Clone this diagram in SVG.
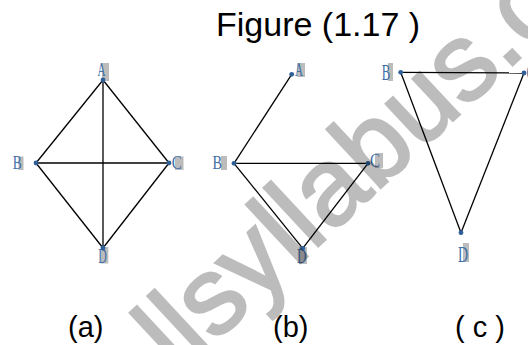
<svg xmlns="http://www.w3.org/2000/svg" width="528" height="345" viewBox="0 0 528 345">
<style>
.cap{font-family:"Liberation Sans",Arial,sans-serif;fill:#000}
.lbl{font-family:"Liberation Serif","Times New Roman",serif;fill:#3f6fa8}
.box{fill:#bcbcbc}
.dot{fill:#2f5f98}
.edge{stroke:#000;stroke-width:1.3;fill:none}
.wm{font-family:"Liberation Sans",Arial,sans-serif;fill:#000;stroke:#000;stroke-width:2.5}
</style>
<rect width="528" height="345" fill="#fff"/>
<text class="cap" x="216" y="36" font-size="34">Figure (1.17 )</text>
<g id="connectors">
<line class="edge" x1="103" y1="80" x2="36" y2="163"/>
<line class="edge" x1="103" y1="80" x2="169" y2="163"/>
<line class="edge" x1="103" y1="80" x2="103" y2="248"/>
<line class="edge" x1="36" y1="163" x2="169" y2="163"/>
<line class="edge" x1="36" y1="163" x2="103" y2="248"/>
<line class="edge" x1="169" y1="163" x2="103" y2="248"/>
<line class="edge" x1="291.7" y1="74.3" x2="234" y2="163.3"/>
<line class="edge" x1="234" y1="163.3" x2="368" y2="163.3"/>
<line class="edge" x1="234" y1="163.3" x2="302.7" y2="248.3"/>
<line class="edge" x1="368" y1="163.3" x2="302.7" y2="248.3"/>
<line class="edge" x1="400.7" y1="72.3" x2="524" y2="73"/>
<line class="edge" x1="524" y1="73" x2="461" y2="232.7"/>
<line class="edge" x1="400.7" y1="72.3" x2="461" y2="232.7"/>
</g>
<g id="a-A"><rect class="box" x="102" y="63" width="7" height="18"/><text class="lbl" x="97.5" y="75.5" font-size="19" textLength="8" lengthAdjust="spacingAndGlyphs">A</text><circle class="dot" cx="103" cy="80" r="2.4"/></g>
<g id="a-B"><rect class="box" x="18.5" y="156.5" width="5" height="13.5"/><text class="lbl" x="12.7" y="169" font-size="19" textLength="9" lengthAdjust="spacingAndGlyphs">B</text><circle class="dot" cx="36" cy="163" r="2.4"/></g>
<g id="a-C"><rect class="box" x="175" y="156.5" width="8.5" height="13.5"/><text class="lbl" x="171.7" y="169" font-size="19" textLength="10" lengthAdjust="spacingAndGlyphs">C</text><circle class="dot" cx="169" cy="163" r="2.4"/></g>
<g id="a-D"><rect class="box" x="100.7" y="247" width="7.6" height="16.5"/><text class="lbl" x="98.3" y="263" font-size="20" textLength="8.5" lengthAdjust="spacingAndGlyphs">D</text><circle class="dot" cx="103" cy="248" r="2.4"/></g>
<g id="b-A"><rect class="box" x="297" y="63" width="8" height="14"/><text class="lbl" x="295" y="75.5" font-size="19" textLength="8" lengthAdjust="spacingAndGlyphs">A</text><circle class="dot" cx="291.7" cy="74.3" r="2.4"/></g>
<g id="b-B"><rect class="box" x="221" y="156" width="6" height="14"/><text class="lbl" x="212.5" y="168.5" font-size="19" textLength="9.5" lengthAdjust="spacingAndGlyphs">B</text><circle class="dot" cx="234" cy="163.3" r="2.4"/></g>
<g id="b-C"><rect class="box" x="375" y="153" width="8" height="15"/><text class="lbl" x="370" y="167" font-size="19" textLength="10" lengthAdjust="spacingAndGlyphs">C</text><circle class="dot" cx="368" cy="163.3" r="2.4"/></g>
<g id="b-D"><rect class="box" x="299" y="247" width="8" height="17"/><text class="lbl" x="297" y="263" font-size="20" textLength="9.5" lengthAdjust="spacingAndGlyphs">D</text><circle class="dot" cx="302.7" cy="248.3" r="2.4"/></g>
<g id="c-B"><rect class="box" x="388" y="63" width="5" height="18"/><text class="lbl" x="381.7" y="80" font-size="24" textLength="8.5" lengthAdjust="spacingAndGlyphs">B</text><circle class="dot" cx="400.7" cy="72.3" r="2.4"/></g>
<g id="c-C"><text class="lbl" x="526.5" y="80" font-size="24" textLength="9" lengthAdjust="spacingAndGlyphs">C</text><circle class="dot" cx="524" cy="73" r="2.4"/></g>
<g id="c-D"><rect class="box" x="463" y="243" width="6" height="19"/><text class="lbl" x="458" y="262" font-size="24" textLength="10" lengthAdjust="spacingAndGlyphs">D</text><circle class="dot" cx="461" cy="232.7" r="2.4"/></g>
<text class="cap" x="68" y="337" font-size="29">(a)</text>
<text class="cap" x="273" y="337" font-size="29">(b)</text>
<text class="cap" x="455" y="337" font-size="29">( c )</text>
<g opacity="0.26"><text class="wm" x="134" y="418" font-size="110" transform="rotate(-43 134 418)">allsyllabus.com</text></g>
</svg>
